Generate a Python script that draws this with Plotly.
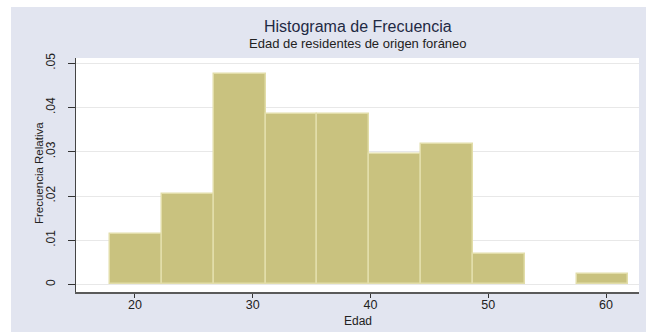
import plotly.graph_objects as go

# Data
bin_edges = [17.9, 22.3, 26.7, 31.1, 35.5, 39.9, 44.3, 48.7, 53.1, 57.5, 61.9]
densidad = [0.0114, 0.0205, 0.0476, 0.0385, 0.0385, 0.0294, 0.0317, 0.0068, 0.0, 0.0023]
x_ticks = [20, 30, 40, 50, 60]
y_ticks = [0, 0.01, 0.02, 0.03, 0.04, 0.05]
y_ticklabels = ["0", ".01", ".02", ".03", ".04", ".05"]

centros = [(a + b) / 2 for a, b in zip(bin_edges[:-1], bin_edges[1:])]
anchos = [b - a for a, b in zip(bin_edges[:-1], bin_edges[1:])]
bordes = [0 if d == 0 else 1.5 for d in densidad]

FONT = "Liberation Sans, Arial, sans-serif"
BG = "#e2e5f0"

fig = go.Figure()
fig.add_trace(go.Bar(
    x=centros, y=densidad, width=anchos,
    marker=dict(color="#c9c27f", line=dict(color="#e2dda9", width=bordes)),
    showlegend=False, hoverinfo="skip",
))

fig.update_layout(
    width=646, height=332,
    margin=dict(l=76, r=7, t=58, b=40),
    paper_bgcolor="white",
    plot_bgcolor="rgba(0,0,0,0)",
    font=dict(family=FONT, color="#333333"),
    bargap=0,
    shapes=[
        dict(type="rect", xref="paper", yref="paper", x0=-0.1155, x1=1.02,
             y0=-0.18, y1=1.218, fillcolor=BG, line=dict(width=0), layer="below"),
        dict(type="rect", xref="paper", yref="paper", x0=0, x1=1,
             y0=0, y1=1, fillcolor="white", line=dict(width=0), layer="below"),
    ],
    xaxis=dict(
        range=[15.0, 62.8], tickvals=x_ticks, ticks="outside", ticklen=4,
        tickcolor="#333333", tickwidth=1, showgrid=False, zeroline=False,
        showline=True, linecolor="#5a5a5a", linewidth=2,
        tickfont=dict(size=12.5, color="#222222"), ticklabelstandoff=-4,
    ),
    yaxis=dict(
        range=[-0.0017, 0.0512], tickvals=y_ticks, ticktext=y_ticklabels,
        ticks="outside", ticklen=7, tickcolor="#333333", tickwidth=1,
        tickangle=-90, tickfont=dict(size=12, color="#222222"),
        ticklabelstandoff=8,
        showgrid=True, gridcolor="#e8e8e8", gridwidth=1, zeroline=False,
        showline=True, linecolor="#444444", linewidth=1,
    ),
    annotations=[
        dict(text="Histograma de Frecuencia", xref="paper", yref="paper",
             x=0.5, y=1.1325, xanchor="center", yanchor="middle", showarrow=False,
             font=dict(size=16, color="#1f2a44")),
        dict(text="Edad de residentes de origen foráneo", xref="paper", yref="paper",
             x=0.5, y=1.064, xanchor="center", yanchor="middle", showarrow=False,
             font=dict(size=13, color="#222222")),
        dict(text="Edad", xref="paper", yref="paper",
             x=0.5, y=-0.124, xanchor="center", yanchor="middle", showarrow=False,
             font=dict(size=12, color="#222222")),
        dict(text="Frecuencia Relativa", xref="paper", yref="paper",
             x=-0.0657, y=0.5085, xanchor="center", yanchor="middle", showarrow=False,
             textangle=-90, font=dict(size=11.5, color="#222222")),
    ],
)

fig.write_html(
    "out.html",
    config={"displayModeBar": False},
    post_script="document.body.style.margin='0';document.body.style.overflow='hidden';",
)
